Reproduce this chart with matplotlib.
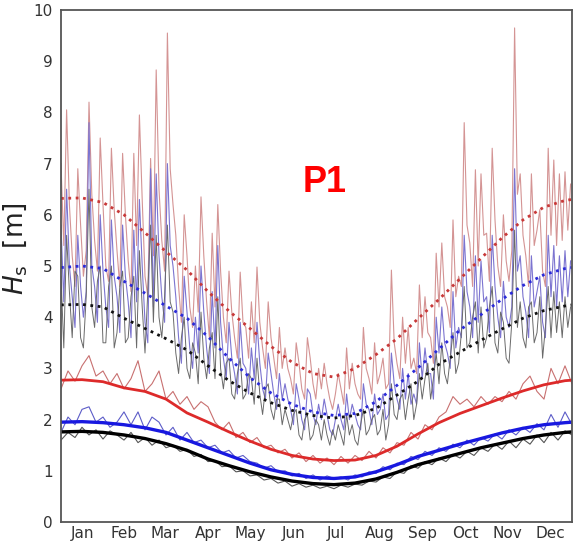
import matplotlib.pyplot as plt

# upper noisy series (every 2 days)
days_hi = list(range(0, 365, 2))
red_hi = [7.0, 5.4, 8.05, 6.2, 5.2, 4.6, 6.9, 5.8, 4.8, 5.3,
          8.2, 6.4, 5.5, 4.9, 7.5, 6.2, 5.0, 4.7, 7.3, 6.1,
          5.3, 4.6, 7.2, 6.0, 5.1, 4.5, 7.2, 5.4, 7.95, 6.3,
          4.8, 4.4, 7.1, 5.2, 8.83, 6.5, 5.5, 4.9, 9.55, 6.9,
          6.2, 5.6, 4.6, 3.9, 6.0, 5.2, 4.2, 3.8, 5.0, 4.1,
          6.35, 5.2, 4.3, 3.6, 5.64, 4.2, 6.2, 4.9, 4.0, 3.5,
          4.9, 4.1, 3.6, 3.2, 4.88, 3.9, 3.8, 3.2, 4.3, 3.5,
          4.98, 3.9, 3.4, 3.0, 4.3, 3.6, 3.2, 2.8, 3.8, 3.0,
          3.4, 3.0, 2.8, 2.5, 3.5, 3.1, 2.6, 2.4, 3.6, 3.2,
          2.7, 2.4, 3.0, 2.6, 3.1, 2.7, 2.4, 2.2, 2.5, 2.9,
          2.6, 2.3, 3.4, 2.6, 3.1, 2.7, 2.5, 2.4, 3.8, 3.0,
          2.8, 2.5, 3.5, 2.7, 2.9, 3.2, 2.6, 2.7, 4.92, 3.5,
          3.1, 2.8, 4.0, 3.1, 3.8, 3.0, 3.2, 2.9, 4.63, 3.6,
          4.4, 3.7, 3.6, 3.1, 5.25, 4.2, 5.45, 4.4, 4.2, 3.8,
          5.9, 4.4, 4.8, 4.6, 7.8, 5.8, 5.45, 4.6, 6.88, 5.0,
          6.8, 5.6, 5.64, 4.7, 7.3, 5.9, 5.0, 4.6, 6.0, 5.1,
          4.7, 5.3, 9.65, 6.4, 6.8, 5.6, 5.2, 4.6, 6.8, 5.4,
          5.7, 6.1, 4.9, 4.6, 7.3, 5.6, 7.07, 5.4, 6.8, 5.5,
          6.84, 5.7, 6.6]
blue_hi = [5.8, 4.3, 6.5, 5.0, 4.4, 3.8, 5.6, 4.6, 4.0, 4.5,
           7.8, 5.0, 4.6, 3.9, 6.0, 4.9, 4.2, 3.8, 5.9, 4.8,
           4.4, 3.7, 5.8, 4.8, 4.3, 3.6, 5.7, 4.3, 6.3, 5.0,
           3.9, 3.5, 6.9, 4.2, 6.8, 5.2, 4.4, 3.9, 7.0, 5.4,
           5.0, 4.4, 3.6, 3.1, 4.8, 4.1, 3.4, 3.0, 4.0, 3.3,
           5.0, 4.1, 3.4, 2.9, 4.5, 3.4, 5.4, 3.9, 3.2, 2.8,
           3.9, 3.2, 2.9, 2.5, 3.9, 3.1, 3.0, 2.5, 3.4, 2.8,
           3.9, 3.1, 2.6, 2.4, 3.3, 2.9, 2.5, 2.2, 2.9, 2.4,
           2.7, 2.4, 2.2, 1.9, 2.7, 2.4, 2.0, 1.8, 2.6, 2.5,
           2.1, 1.9, 2.3, 2.0, 2.4, 2.1, 1.8, 1.7, 2.0, 2.3,
           2.0, 1.8, 2.5, 2.0, 2.3, 2.1, 1.9, 1.8, 2.7, 2.3,
           2.2, 1.9, 2.5, 2.1, 2.2, 2.5, 2.0, 2.1, 3.3, 2.7,
           2.4, 2.2, 3.0, 2.4, 2.9, 2.3, 2.5, 2.3, 3.5, 2.8,
           3.4, 2.9, 2.9, 2.4, 4.0, 3.3, 4.2, 3.5, 3.3, 3.0,
           4.5, 3.4, 3.8, 3.6, 5.6, 4.5, 4.2, 3.6, 5.2, 3.9,
           5.1, 4.3, 4.4, 3.7, 5.6, 4.6, 4.0, 3.6, 4.7, 4.0,
           3.8, 4.2, 6.9, 4.9, 5.2, 4.4, 4.1, 3.6, 5.2, 4.2,
           4.5, 4.8, 3.9, 3.6, 5.6, 4.4, 5.4, 4.2, 5.2, 4.3,
           5.3, 4.4, 5.1]
black_hi = [4.8, 3.4, 5.6, 4.5, 3.6, 4.9, 4.8, 3.6, 3.4, 4.4,
            6.5, 4.2, 3.8, 4.7, 5.0, 3.5, 3.5, 4.6, 5.0, 3.4,
            3.7, 4.6, 4.9, 3.5, 3.6, 4.4, 4.8, 3.4, 5.3, 4.2,
            3.3, 4.5, 5.8, 3.9, 5.6, 4.0, 3.6, 4.4, 5.8, 4.3,
            4.1, 3.3, 2.9, 3.6, 4.0, 3.0, 2.8, 3.5, 3.3, 2.7,
            4.1, 3.2, 2.8, 3.4, 3.7, 2.8, 4.4, 3.0, 2.6, 3.1,
            3.2, 2.5, 2.4, 2.9, 3.2, 2.4, 2.5, 2.9, 2.8, 2.3,
            3.2, 2.5, 2.1, 2.6, 2.7, 2.2, 2.0, 2.4, 2.4, 1.9,
            2.2, 2.0, 1.8, 2.1, 2.2, 1.7, 1.6, 2.0, 2.1, 1.6,
            1.7, 2.0, 1.9, 1.6, 2.0, 1.7, 1.5, 1.8, 1.6, 1.9,
            1.7, 1.5, 2.1, 1.7, 1.9, 1.6, 1.5, 1.9, 2.2, 1.7,
            1.8, 2.0, 2.1, 1.7, 1.8, 2.2, 1.6, 1.9, 2.7, 2.1,
            2.0, 2.4, 2.5, 2.0, 2.4, 2.7, 2.0, 2.3, 2.9, 2.4,
            2.8, 3.1, 2.4, 2.8, 3.3, 2.7, 3.5, 2.9, 2.7, 3.2,
            3.7, 2.9, 3.1, 3.7, 4.6, 3.4, 3.5, 4.0, 4.3, 3.3,
            4.2, 3.4, 3.6, 4.2, 4.6, 3.5, 3.3, 4.1, 3.9, 3.2,
            3.1, 3.9, 5.7, 3.8, 4.3, 3.6, 3.4, 4.2, 4.3, 3.5,
            3.7, 4.4, 3.2, 3.8, 4.6, 3.6, 4.5, 3.7, 4.3, 3.6,
            4.4, 3.8, 4.2]

# lower noisy series (every 5 days)
days_lo = list(range(0, 366, 5))
red_lo = [2.6, 2.95, 2.75, 3.05, 3.25, 2.85, 2.95, 2.7, 2.9, 2.6,
          2.8, 3.15, 2.55, 2.7, 2.95, 2.4, 2.55, 2.3, 2.45, 2.2,
          2.35, 2.25, 1.95, 1.8, 1.95, 1.65, 1.75, 1.55, 1.65, 1.45,
          1.5, 1.35, 1.42, 1.25, 1.35, 1.18, 1.3, 1.15, 1.25, 1.12,
          1.28, 1.15, 1.3, 1.2, 1.38, 1.25, 1.45, 1.35, 1.55, 1.5,
          1.75, 1.62, 1.9, 1.8, 2.05, 2.15, 2.45, 2.3, 2.4, 2.25,
          2.45, 2.3, 2.45, 2.35, 2.55, 2.4, 2.7, 2.85, 2.55, 2.4,
          3.0, 2.7, 3.05, 2.7]
blue_lo = [1.75, 2.05, 1.9, 2.2, 2.25, 1.95, 2.05, 1.85, 1.95, 2.15,
           1.9, 2.15, 1.8, 2.05, 1.95, 1.7, 1.85, 1.6, 1.75, 1.55,
           1.6, 1.45, 1.5, 1.35, 1.4, 1.25, 1.3, 1.18, 1.15, 1.05,
           1.1, 0.98, 1.0, 0.9, 0.95, 0.85, 0.92, 0.82, 0.9, 0.85,
           0.88, 0.82, 0.92, 0.88, 0.98, 0.95, 1.08, 1.02, 1.15, 1.12,
           1.28, 1.22, 1.38, 1.3, 1.45, 1.38, 1.52, 1.45, 1.6, 1.5,
           1.65, 1.58, 1.72, 1.62, 1.8, 1.7, 1.85, 1.75, 1.92, 1.8,
           2.1, 1.85, 2.15, 1.9]
black_lo = [1.6, 1.75, 1.65, 1.85, 1.7, 1.8, 1.62, 1.78, 1.7, 1.6,
            1.75, 1.55, 1.65, 1.5, 1.6, 1.45, 1.5, 1.38, 1.42, 1.28,
            1.32, 1.18, 1.2, 1.08, 1.1, 0.98, 1.0, 0.9, 0.92, 0.82,
            0.85, 0.76, 0.8, 0.7, 0.75, 0.68, 0.72, 0.66, 0.7, 0.65,
            0.72, 0.68, 0.74, 0.72, 0.8, 0.78, 0.88, 0.85, 0.98, 0.95,
            1.1, 1.05, 1.18, 1.12, 1.25, 1.18, 1.32, 1.25, 1.38, 1.3,
            1.45, 1.38, 1.52, 1.42, 1.58, 1.45, 1.62, 1.52, 1.7, 1.55,
            1.75, 1.6, 1.78, 1.7]

# smooth seasonal fits (every 15 days)
days_fit = list(range(0, 361, 15)) + [365]
red_dot = [6.32, 6.33, 6.24, 6.00, 5.65, 5.28, 4.92, 4.50, 4.12, 3.78, 3.43, 3.12, 2.90,
           2.83, 3.00, 3.27, 3.58, 3.97, 4.35, 4.75, 5.15, 5.55, 5.90, 6.15, 6.28, 6.30]
blue_dot = [4.97, 5.00, 4.95, 4.70, 4.47, 4.22, 3.98, 3.62, 3.20, 2.82, 2.52, 2.30, 2.15,
            2.08, 2.12, 2.35, 2.67, 3.01, 3.38, 3.75, 4.05, 4.35, 4.62, 4.83, 4.95, 4.97]
black_dot = [4.24, 4.25, 4.20, 3.98, 3.78, 3.58, 3.36, 3.05, 2.76, 2.52, 2.33, 2.18, 2.08,
             2.03, 2.08, 2.22, 2.48, 2.75, 3.08, 3.32, 3.55, 3.77, 3.98, 4.13, 4.22, 4.24]
red_fit = [2.77, 2.78, 2.74, 2.62, 2.55, 2.40, 2.13, 1.95, 1.76, 1.58, 1.42, 1.30, 1.23,
           1.20, 1.21, 1.30, 1.48, 1.72, 1.94, 2.12, 2.27, 2.42, 2.56, 2.68, 2.76, 2.77]
blue_fit = [1.95, 1.96, 1.94, 1.90, 1.84, 1.75, 1.60, 1.45, 1.30, 1.15, 1.02, 0.93, 0.87,
            0.85, 0.88, 0.98, 1.12, 1.28, 1.40, 1.52, 1.63, 1.74, 1.83, 1.90, 1.94, 1.95]
black_fit = [1.76, 1.77, 1.75, 1.70, 1.63, 1.53, 1.40, 1.23, 1.10, 0.98, 0.88, 0.80, 0.75,
             0.73, 0.76, 0.84, 0.97, 1.12, 1.23, 1.34, 1.45, 1.54, 1.63, 1.70, 1.75, 1.76]

months = ['Jan', 'Feb', 'Mar', 'Apr', 'May', 'Jun', 'Jul', 'Aug', 'Sep', 'Oct', 'Nov', 'Dec']
month_mid = [15.5, 45, 74.5, 105, 135.5, 166, 196.5, 227.5, 258, 288.5, 319, 349.5]

fig = plt.figure(figsize=(5.73, 5.46), dpi=100)
ax = fig.add_axes([61 / 573, 24 / 546, 511 / 573, 512 / 546])

ax.plot(days_hi, red_hi, color='#d49494', lw=0.8)
ax.plot(days_hi, blue_hi, color='#7c74d0', lw=0.8)
ax.plot(days_hi, black_hi, color='#6a6a6a', lw=0.7)

ax.plot(days_lo, red_lo, color='#c87070', lw=0.8)
ax.plot(days_lo, blue_lo, color='#5c5cc8', lw=0.8)
ax.plot(days_lo, black_lo, color='#555555', lw=0.8)

ax.plot(days_fit, red_dot, color='#c83838', lw=2, ls=':')
ax.plot(days_fit, blue_dot, color='#2a2ad8', lw=2, ls=':')
ax.plot(days_fit, black_dot, color='#111111', lw=2, ls=':')

ax.plot(days_fit, red_fit, color='#dd2a2a', lw=2)
ax.plot(days_fit, blue_fit, color='#1818e0', lw=2.4)
ax.plot(days_fit, black_fit, color='black', lw=2.4)

ax.text(188, 6.64, 'P1', color='red', fontsize=26, fontweight='bold',
        family='Liberation Sans', ha='center', va='center')

ax.set_xlim(0, 365)
ax.set_ylim(0, 10)
ax.set_yticks(range(0, 11))
ax.set_xticks(month_mid)
ax.set_xticklabels(months)
ax.tick_params(length=0, labelsize=11, colors='#333333')
ax.tick_params(axis='x', pad=3)
ax.tick_params(axis='y', pad=6)
ax.set_ylabel(r'$H_\mathrm{s}$  [m]', fontsize=19, color='#222222')
ax.yaxis.set_label_coords(-0.062, 0.535)
for s in ax.spines.values():
    s.set_color('#555555')
    s.set_linewidth(1.3)

plt.savefig('out.png')
